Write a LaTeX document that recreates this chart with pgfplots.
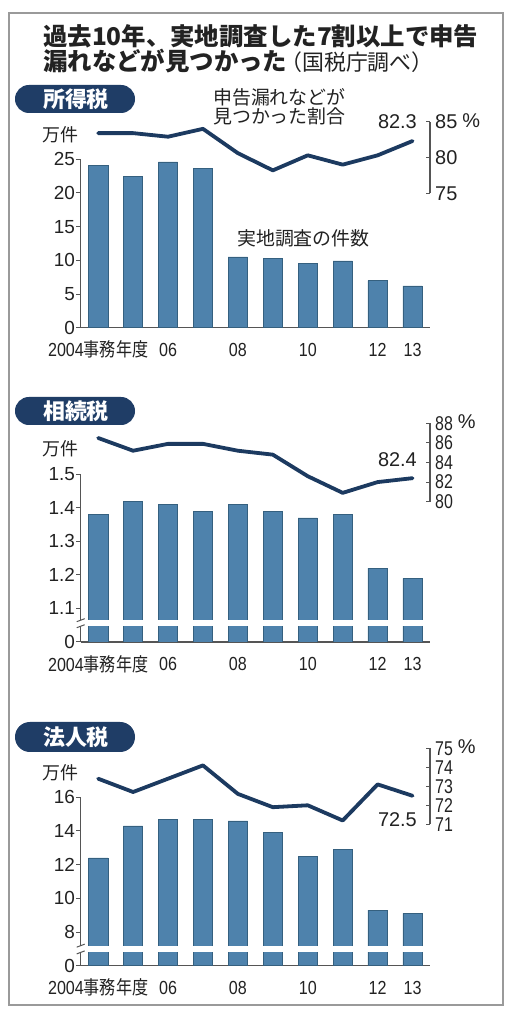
\documentclass[border=0pt]{standalone}
\usepackage{pgfplots}
\pgfplotsset{compat=1.18}
\usepackage{graphicx}
\usepackage{fontspec}
\setmainfont{Liberation Sans}
\newfontfamily\jp{Noto Sans CJK JP}
\definecolor{barblue}{HTML}{4E82AC}
\definecolor{bardark}{HTML}{35607F}
\definecolor{linecol}{HTML}{1C3A60}
\definecolor{pillcol}{HTML}{1F3D66}
\definecolor{axgray}{HTML}{555555}
\definecolor{framegray}{HTML}{9A9A9A}
\definecolor{txt}{HTML}{222222}
\newcommand\xl[1]{\scalebox{0.85}[1]{#1}}
\newcommand\cn[1]{\scalebox{0.8}[1]{#1}}
\newcommand\pct{\rlap{\hspace{5bp}\smash{\raisebox{1.5bp}{\%}}}}
\pgfplotsset{
  barax/.style={anchor=south west, scale only axis, width=349.3bp,
    xmin=-0.5, xmax=9.5, axis x line*=bottom, axis y line*=left,
    xtick={0,2,4,6,8,9},
    xticklabels={\xl{2004{\jp 事務年度}},\xl{06},\xl{08},\xl{10},\xl{12},\xl{13}},
    tick align=outside, major tick length=4.5bp,
    xtick style={draw=none},
    axis line style={draw=axgray, line width=1.1bp},
    ytick style={draw=axgray, line width=1bp},
    yticklabel style={anchor=east, xshift=-1bp, font=\fontsize{19}{19}\selectfont, text=txt},
    xticklabel style={anchor=center, yshift=-17.5bp, font=\fontsize{19}{19}\selectfont, text=txt},
  },
  lineax/.style={anchor=south west, scale only axis, width=349.3bp,
    xmin=-0.5, xmax=9.5, axis x line=none, axis y line*=right,
    tick align=inside, major tick length=4.5bp,
    axis line style={draw=axgray, line width=1.1bp},
    ytick style={draw=axgray, line width=1bp},
    yticklabel style={anchor=west, xshift=5bp, font=\fontsize{20}{20}\selectfont, text=txt},
    clip=false},
  barplot/.style={ybar, bar width=19.3bp, fill=barblue, draw=bardark, line width=0.6bp},
  lineplot/.style={linecol, line width=3.8bp, line join=round, line cap=round, mark=none},
}
\begin{document}
\begin{tikzpicture}[x=1bp,y=1bp, every node/.style={inner sep=0pt, text=txt}]
\path[use as bounding box] (0,0) rectangle (517,1024);
\fill[white] (0,0) rectangle (517,1024);
\draw[framegray, line width=1.2bp] (9,19) rectangle (503,1011);
% title
\node[anchor=west] at (43,988) {\jp\bfseries\fontsize{24.5}{24.5}\selectfont 過去10年、実地調査した7割以上で申告};
\node[anchor=west] at (43,963) {\jp\fontsize{24.5}{24.5}\selectfont{\bfseries 漏れなどが見つかった}\hspace{-7bp}{\fontsize{22}{22}\selectfont（国税庁調べ）}};

% ---------- panel 1
\fill[pillcol, rounded corners=13.9bp] (15,911) rectangle (135,939);
\node[text=white] at (76,925) {\jp\bfseries\fontsize{22}{22}\selectfont 所得税};
\node at (60,889) {\jp\fontsize{18}{18}\selectfont 万件};
\node[anchor=west] at (213,926.5) {\jp\fontsize{19}{19}\selectfont 申告漏れなどが};
\node[anchor=west] at (213,907.5) {\jp\fontsize{19}{19}\selectfont 見つかった割合};
\node[anchor=west] at (237,786) {\jp\fontsize{19}{19}\selectfont 実地調査の件数};
\node[anchor=east] at (417,902.5) {\fontsize{20}{20}\selectfont 82.3};
\begin{axis}[barax, at={(80.7bp,696.3bp)}, height=168.4bp, ymin=0, ymax=25,
  ytick={0,5,10,15,20,25}, yticklabels={0,5,10,15,20,25}]
\addplot[barplot] coordinates {(0,24.1) (1,22.4) (2,24.6) (3,23.6) (4,10.5) (5,10.3) (6,9.6) (7,9.9) (8,7.0) (9,6.2)};
\end{axis}
\begin{axis}[lineax, at={(80.7bp,830.7bp)}, height=71.6bp, ymin=75, ymax=85,
  ytick={75,80,85}, yticklabels={75,80,{85\pct}}]
\addplot[lineplot] coordinates {(0,83.4) (1,83.4) (2,82.9) (3,84.0) (4,80.6) (5,78.2) (6,80.3) (7,79.0) (8,80.3) (9,82.3)};
\end{axis}

% ---------- panel 2
\fill[pillcol, rounded corners=13.9bp] (15,599) rectangle (135,627);
\node[text=white] at (76,613) {\jp\bfseries\fontsize{22}{22}\selectfont 相続税};
\node at (60,575) {\jp\fontsize{18}{18}\selectfont 万件};
\node[anchor=east] at (417,564.5) {\fontsize{20}{20}\selectfont 82.4};
\begin{axis}[barax, at={(80.7bp,382bp)}, height=167.7bp, ymin=1.0, ymax=1.5,
  ytick={1.0,1.1,1.2,1.3,1.4,1.5}, yticklabels={0,1.1,1.2,1.3,1.4,1.5}]
\addplot[barplot] coordinates {(0,1.38) (1,1.42) (2,1.41) (3,1.39) (4,1.41) (5,1.39) (6,1.37) (7,1.38) (8,1.22) (9,1.19)};
\coordinate (bA) at (axis cs:-0.5,1.047);
\coordinate (bB) at (axis cs:9.5,1.065);
\end{axis}
\fill[white] ([xshift=-6bp]bA) rectangle ([xshift=1bp]bB);
\draw[axgray, line width=1bp] ([xshift=-4bp,yshift=-1.5bp]bA) -- ([xshift=4bp,yshift=1.5bp]bA);
\draw[axgray, line width=1bp] ([xshift=-4bp,yshift=-1.5bp]bA |- bB) -- ([xshift=4bp,yshift=1.5bp]bA |- bB);
\begin{axis}[lineax, at={(80.7bp,522.3bp)}, height=78.4bp, ymin=80, ymax=88,
  ytick={80,82,84,86,88}, yticklabels={\cn{80},\cn{82},\cn{84},\cn{86},{\cn{88}\pct}}]
\addplot[lineplot] coordinates {(0,86.5) (1,85.2) (2,85.9) (3,85.9) (4,85.2) (5,84.8) (6,82.6) (7,80.9) (8,82.0) (9,82.4)};
\end{axis}

% ---------- panel 3
\fill[pillcol, rounded corners=14.9bp] (15,272) rectangle (135,302);
\node[text=white] at (76,287) {\jp\bfseries\fontsize{22}{22}\selectfont 法人税};
\node at (60,251) {\jp\fontsize{18}{18}\selectfont 万件};
\node[anchor=east] at (417,204) {\fontsize{20}{20}\selectfont 72.5};
\begin{axis}[barax, at={(80.7bp,58.3bp)}, height=168.4bp, ymin=6, ymax=16,
  ytick={6,8,10,12,14,16}, yticklabels={0,8,10,12,14,16}]
\addplot[barplot] coordinates {(0,12.4) (1,14.3) (2,14.7) (3,14.7) (4,14.6) (5,13.9) (6,12.5) (7,12.9) (8,9.3) (9,9.1)};
\coordinate (cA) at (axis cs:-0.5,6.79);
\coordinate (cB) at (axis cs:9.5,7.19);
\end{axis}
\fill[white] ([xshift=-6bp]cA) rectangle ([xshift=1bp]cB);
\draw[axgray, line width=1bp] ([xshift=-4bp,yshift=-1.5bp]cA) -- ([xshift=4bp,yshift=1.5bp]cA);
\draw[axgray, line width=1bp] ([xshift=-4bp,yshift=-1.5bp]cA |- cB) -- ([xshift=4bp,yshift=1.5bp]cA |- cB);
\begin{axis}[lineax, at={(80.7bp,199.7bp)}, height=76bp, ymin=71, ymax=75,
  ytick={71,72,73,74,75}, yticklabels={\cn{71},\cn{72},\cn{73},\cn{74},{\cn{75}\pct}}]
\addplot[lineplot] coordinates {(0,73.4) (1,72.7) (2,73.4) (3,74.1) (4,72.6) (5,71.9) (6,72.0) (7,71.2) (8,73.1) (9,72.5)};
\end{axis}
\end{tikzpicture}
\end{document}
